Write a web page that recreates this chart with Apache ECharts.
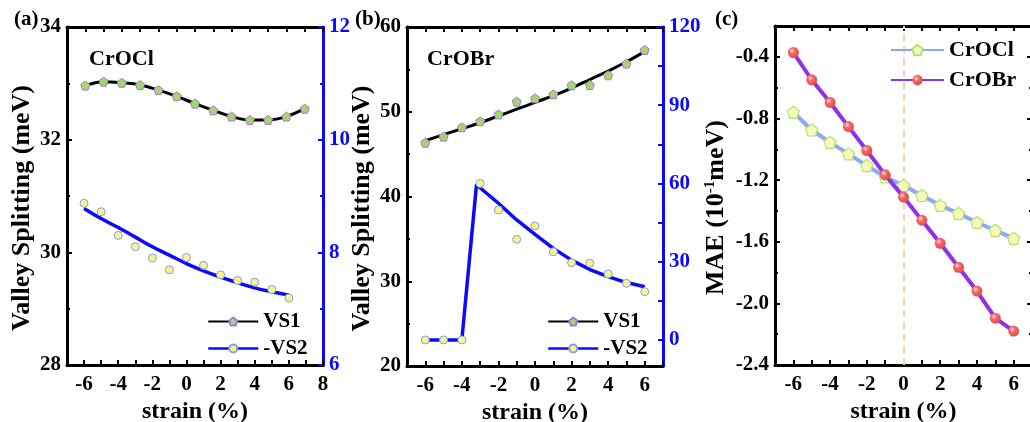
<!DOCTYPE html>
<html><head><meta charset="utf-8">
<script src="https://cdn.jsdelivr.net/npm/echarts@6/dist/echarts.min.js"></script>
<style>html,body{margin:0;padding:0;background:#fff}#c{width:1030px;height:422px}</style>
</head><body><div id="c"></div>
<script>
// ---- data ----
const strain = [-6,-5,-4,-3,-2,-1,0,1,2,3,4,5,6];
// panel (a) CrOCl
const aVS1 = [32.96,33.03,33.01,32.97,32.88,32.77,32.64,32.52,32.41,32.35,32.35,32.41,32.55];
const aVS2 = [8.87,8.72,8.30,8.10,7.90,7.69,7.91,7.77,7.60,7.50,7.47,7.34,7.19];
const aVS2Fit = [8.78,8.60,8.44,8.27,8.10,7.95,7.80,7.67,7.56,7.46,7.37,7.30,7.24];
// panel (b) CrOBr
const bVS1 = [46.35,47.06,48.16,48.87,49.69,51.19,51.58,52.05,53.12,53.15,54.30,55.68,57.29];
const bVS1Fit = [46.6,47.3,48.0,48.7,49.5,50.3,51.1,51.9,52.8,53.8,54.8,55.9,57.1];
const bVS2 = [0,0,0,60,49.8,38.6,43.7,33.8,29.6,29.4,25.3,21.7,18.5];
const bVS2FitX = [-6,-5,-4,-3.2,-2,-1,0,1,2,3,4,5,6];
const bVS2Fit = [0,0,0,59.5,52.4,46.0,40.5,35.1,30.6,27.0,24.3,22.0,20.4];
// panel (c) MAE
const cCrOCl = [-0.76,-0.875,-0.955,-1.03,-1.106,-1.18,-1.235,-1.30,-1.364,-1.416,-1.475,-1.526,-1.578];
const cCrOBr = [-0.372,-0.549,-0.696,-0.853,-1.008,-1.166,-1.31,-1.46,-1.61,-1.766,-1.92,-2.096,-2.18];
const bRightLabels = [0,30,60,90,120];
const bRightTicks = [0,15,30,45,60,75,90,105,120];

// ---- chart ----
const FONT = '"Liberation Serif","Times New Roman",serif';
const BLUE = '#0a0aff';
const PENT = 'path://M0,-1L0.951,-0.309L0.588,0.809L-0.588,0.809L-0.951,-0.309Z';
const pairs = (xs, ys) => xs.map((x, i) => [x, ys[i]]);
const evenFmt = v => (Math.round(v) % 2 === 0 ? String(Math.round(v)) : '');
const txt = (size, color) => ({fontFamily: FONT, fontWeight: 'bold', fontSize: size, color: color || '#000'});

function ax(color, extra) {
  return Object.assign({
    type: 'value',
    axisLine: {show: true, onZero: false, lineStyle: {color: color, width: 3}},
    axisTick: {show: true, inside: true, length: 5, lineStyle: {color: color, width: 2}},
    minorTick: {show: false},
    splitLine: {show: false},
    axisLabel: Object.assign({margin: 6}, txt(21, color))
  }, extra);
}
function minor(n) { return {show: true, splitNumber: n, length: 3, lineStyle: {width: 2}}; }
const xLab = () => Object.assign({margin: 9, formatter: evenFmt}, txt(21));
const yTitle = Object.assign(txt(26), {padding: [0, 24, 0, 0]});

const chart = echarts.init(document.getElementById('c'));
const option = {
  animation: false,
  backgroundColor: '#fff',
  title: [
    {text: '(a)', left: 9, top: 4, textStyle: txt(21)},
    {text: '(b)', left: 350, top: 4, textStyle: txt(21)},
    {text: '(c)', left: 710, top: 4, textStyle: txt(21)},
    {text: 'CrOCl', left: 84, top: 43, textStyle: txt(22)},
    {text: 'CrOBr', left: 422, top: 43, textStyle: txt(22)}
  ],
  grid: [
    {left: 67, top: 27, width: 256, height: 338, outerBoundsMode: 'none', containLabel: false},
    {left: 407, top: 27, width: 256, height: 339, outerBoundsMode: 'none', containLabel: false},
    {left: 775, top: 26, width: 257, height: 339, outerBoundsMode: 'none', containLabel: false}
  ],
  xAxis: [
    ax('#000', {gridIndex: 0, position: 'bottom', min: -7, max: 8, interval: 1, axisLabel: xLab(),
      name: 'strain (%)', nameLocation: 'middle', nameGap: 30, nameTextStyle: txt(24)}),
    ax('#000', {gridIndex: 0, position: 'top', min: -7, max: 7, interval: 1, axisLabel: {show: false}}),
    ax('#000', {gridIndex: 1, position: 'bottom', min: -7, max: 7, interval: 1, axisLabel: xLab(),
      name: 'strain (%)', nameLocation: 'middle', nameGap: 30, nameTextStyle: txt(24)}),
    ax('#000', {gridIndex: 1, position: 'top', min: -7, max: 7, interval: 1, axisLabel: {show: false}}),
    ax('#000', {gridIndex: 2, position: 'bottom', min: -7, max: 7, interval: 1, axisLabel: xLab(),
      name: 'strain (%)', nameLocation: 'middle', nameGap: 30, nameTextStyle: txt(24)}),
    ax('#000', {gridIndex: 2, position: 'top', min: -7, max: 7, interval: 1, axisLabel: {show: false}})
  ],
  yAxis: [
    ax('#000', {gridIndex: 0, position: 'left', min: 28, max: 34, interval: 2, minorTick: minor(2),
      name: 'Valley Splitting (meV)', nameLocation: 'middle', nameGap: 32, nameTextStyle: yTitle}),
    ax(BLUE, {gridIndex: 0, position: 'right', min: 6, max: 12, interval: 2, minorTick: minor(2)}),
    ax('#000', {gridIndex: 1, position: 'left', min: 20, max: 60, interval: 10, minorTick: minor(2),
      name: 'Valley Splitting (meV)', nameLocation: 'middle', nameGap: 32, nameTextStyle: yTitle}),
    ax(BLUE, {gridIndex: 1, position: 'right', min: -10, max: 120,
      axisTick: {show: true, inside: true, length: 5, lineStyle: {color: BLUE, width: 2}, customValues: bRightTicks},
      axisLabel: Object.assign({margin: 6, customValues: bRightLabels}, txt(21, BLUE))}),
    ax('#000', {gridIndex: 2, position: 'left', min: -2.4, max: -0.2, interval: 0.4, minorTick: minor(2),
      axisLabel: Object.assign({margin: 6, showMaxLabel: false, formatter: v => v.toFixed(1)}, txt(21)),
      name: '{a|MAE (10}{s|-1}{a|meV)}', nameLocation: 'middle', nameGap: 46,
      nameTextStyle: Object.assign(txt(26), {padding: [0, 24, 0, 0],
        rich: {a: txt(26), s: Object.assign(txt(15), {verticalAlign: 'top'})}})}),
    ax('#000', {gridIndex: 2, position: 'right', min: -2.4, max: -0.2, interval: 0.4, minorTick: minor(2), axisLabel: {show: false}})
  ],
  legend: [
    {left: 207, top: 311, padding: 0, orient: 'vertical', itemWidth: 50, itemHeight: 10, itemGap: 6,
      formatter: n => n.slice(1), textStyle: txt(21),
      data: [{name: 'aVS1', lineStyle: {color: '#000', width: 2, opacity: 1}},
             {name: 'a-VS2', lineStyle: {color: BLUE, width: 2.5, opacity: 1}}]},
    {left: 547, top: 311, padding: 0, orient: 'vertical', itemWidth: 50, itemHeight: 10, itemGap: 6,
      formatter: n => n.slice(1), textStyle: txt(21),
      data: [{name: 'bVS1', lineStyle: {color: '#000', width: 2, opacity: 1}},
             {name: 'b-VS2', lineStyle: {color: BLUE, width: 2.5, opacity: 1}}]},
    {left: 890, top: 39, padding: 0, orient: 'vertical', itemWidth: 53, itemHeight: 13, itemGap: 8,
      textStyle: txt(22), data: ['CrOCl', 'CrOBr']}
  ],
  series: [
    // (a)
    {name: 'aVS1', type: 'line', xAxisIndex: 1, yAxisIndex: 0, data: pairs(strain, aVS1), smooth: 0.4,
      lineStyle: {color: '#000', width: 3}, symbol: PENT, symbolSize: 9, z: 5,
      itemStyle: {color: '#a3d66b', borderColor: '#a878d8', borderWidth: 1}},
    {name: 'aFit', type: 'line', xAxisIndex: 0, yAxisIndex: 1, data: pairs(strain, aVS2Fit), smooth: 0.4,
      symbol: 'none', lineStyle: {color: BLUE, width: 3.5}, z: 3},
    {name: 'a-VS2', type: 'line', xAxisIndex: 0, yAxisIndex: 1, data: pairs(strain, aVS2),
      lineStyle: {opacity: 0}, symbol: 'circle', symbolSize: 8, z: 6,
      itemStyle: {color: '#f7f48c', borderColor: '#8a9de6', borderWidth: 1}},
    // (b)
    {name: 'bFit1', type: 'line', xAxisIndex: 3, yAxisIndex: 2, data: pairs(strain, bVS1Fit), smooth: 0.4,
      symbol: 'none', lineStyle: {color: '#000', width: 3}, z: 3},
    {name: 'bVS1', type: 'line', xAxisIndex: 3, yAxisIndex: 2, data: pairs(strain, bVS1),
      lineStyle: {opacity: 0}, symbol: PENT, symbolSize: 9, z: 6,
      itemStyle: {color: '#a3d66b', borderColor: '#a878d8', borderWidth: 1}},
    {name: 'bFit2', type: 'line', xAxisIndex: 2, yAxisIndex: 3, data: pairs(bVS2FitX, bVS2Fit),
      symbol: 'none', lineStyle: {color: BLUE, width: 3.5}, z: 3},
    {name: 'b-VS2', type: 'line', xAxisIndex: 2, yAxisIndex: 3, data: pairs(strain, bVS2),
      lineStyle: {opacity: 0}, symbol: 'circle', symbolSize: 8, z: 6,
      itemStyle: {color: '#f7f48c', borderColor: '#8a9de6', borderWidth: 1}},
    // (c)
    {name: 'CrOCl', type: 'line', xAxisIndex: 4, yAxisIndex: 4, data: pairs(strain, cCrOCl),
      lineStyle: {color: '#8da6f5', width: 4}, symbol: PENT, symbolSize: 12, z: 4,
      itemStyle: {color: '#f6f8bc', borderColor: '#b2e46c', borderWidth: 1.2},
      markLine: {silent: true, symbol: 'none', label: {show: false}, z: 1,
        lineStyle: {color: '#f8d2b0', type: [7, 5], width: 2}, data: [{xAxis: 0}]}},
    {name: 'CrOBr', type: 'line', xAxisIndex: 4, yAxisIndex: 4, data: pairs(strain, cCrOBr),
      lineStyle: {color: '#8e30ee', width: 4}, symbol: 'circle', symbolSize: 11, z: 5,
      itemStyle: {color: new echarts.graphic.RadialGradient(0.38, 0.35, 0.7, [
        {offset: 0, color: '#ffe0e0'}, {offset: 0.35, color: '#f56a6a'}, {offset: 1, color: '#e04848'}])}}
  ]
};
chart.setOption(option);
</script></body></html>
